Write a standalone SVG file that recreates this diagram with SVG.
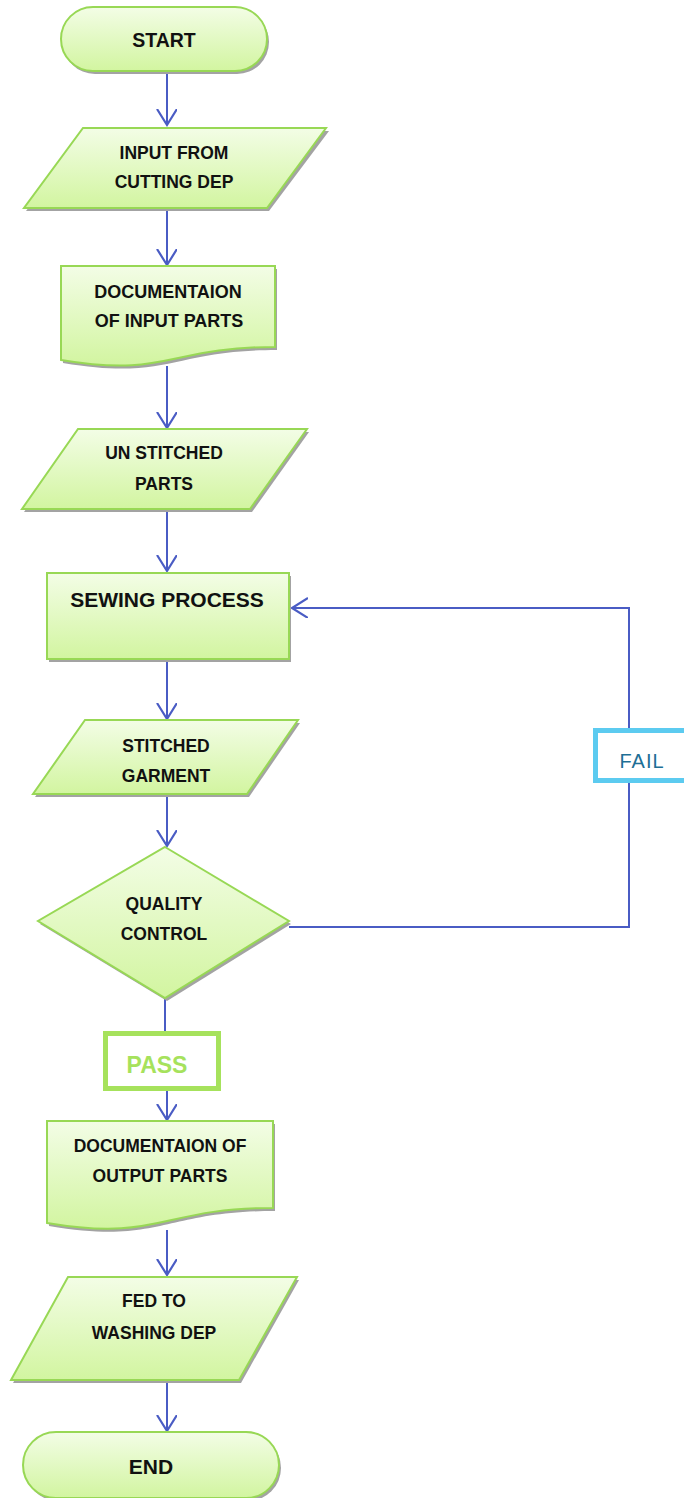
<svg xmlns="http://www.w3.org/2000/svg" width="684" height="1498" viewBox="0 0 684 1498">
<defs>
<linearGradient id="g" x1="0" y1="0" x2="0" y2="1">
<stop offset="0" stop-color="#F3FDE6"/>
<stop offset="1" stop-color="#D2F5A0"/>
</linearGradient>
<marker id="arr" markerWidth="24" markerHeight="24" refX="16" refY="10" orient="auto" markerUnits="userSpaceOnUse">
<path d="M0,0 L16,10 L0,20" fill="none" stroke="#4A5CC4" stroke-width="2.2"/>
</marker>
<style>
.shape{fill:url(#g);stroke:#98D855;stroke-width:2}
.shadow{fill:#A3A3A3;stroke:none}
.t{font-family:"Liberation Sans",Arial,sans-serif;font-weight:bold;fill:#111;text-anchor:middle}
.c{fill:none;stroke:#4A5CC4;stroke-width:2}
</style>
</defs>

<g id="connectors">
<line class="c" x1="167" y1="72" x2="167" y2="125" marker-end="url(#arr)"/>
<line class="c" x1="167" y1="209" x2="167" y2="265" marker-end="url(#arr)"/>
<line class="c" x1="167" y1="366" x2="167" y2="428" marker-end="url(#arr)"/>
<line class="c" x1="167" y1="510" x2="167" y2="571" marker-end="url(#arr)"/>
<line class="c" x1="167" y1="660" x2="167" y2="719" marker-end="url(#arr)"/>
<line class="c" x1="167" y1="797" x2="167" y2="846" marker-end="url(#arr)"/>
<line class="c" x1="165" y1="998" x2="165" y2="1032"/>
<line class="c" x1="167" y1="1091" x2="167" y2="1120" marker-end="url(#arr)"/>
<line class="c" x1="167" y1="1230" x2="167" y2="1275" marker-end="url(#arr)"/>
<line class="c" x1="167" y1="1380" x2="167" y2="1431" marker-end="url(#arr)"/>
<polyline class="c" points="289,927 629,927 629,780"/>
<polyline class="c" points="629,735 629,608 292,608" marker-end="url(#arr)"/>
</g>

<g id="start">
<rect class="shadow" x="63" y="10" width="206" height="64" rx="32"/>
<rect class="shape" x="61" y="7" width="206" height="64" rx="32"/>
<text class="t" x="164" y="47" font-size="19.5">START</text>
</g>

<g id="input">
<polygon class="shadow" points="85,131 329,131 269,211 26,211"/>
<polygon class="shape" points="83,128 326,128 267,208 24,208"/>
<text class="t" x="174" y="159" font-size="17.5">INPUT FROM</text>
<text class="t" x="174" y="188" font-size="17.5">CUTTING DEP</text>
</g>

<g id="doc1">
<path class="shadow" d="M63,269 H277 V350 C170,350 170,381 63,363 Z"/>
<path class="shape" d="M61,266 H275 V347 C168,347 168,378 61,360 Z"/>
<text class="t" x="168" y="298" font-size="18">DOCUMENTAION</text>
<text class="t" x="169" y="327" font-size="18">OF INPUT PARTS</text>
</g>

<g id="unstitched">
<polygon class="shadow" points="80,432 309,432 252,512 24,512"/>
<polygon class="shape" points="78,429 307,429 250,509 22,509"/>
<text class="t" x="164" y="459" font-size="17.5">UN STITCHED</text>
<text class="t" x="164" y="490" font-size="17.5">PARTS</text>
</g>

<g id="sewing">
<rect class="shadow" x="49" y="576" width="242" height="86"/>
<rect class="shape" x="47" y="573" width="242" height="86"/>
<text class="t" x="167" y="607" font-size="21">SEWING PROCESS</text>
</g>

<g id="stitched">
<polygon class="shadow" points="87,723 300,723 249,797 35,797"/>
<polygon class="shape" points="85,720 298,720 247,794 33,794"/>
<text class="t" x="166" y="752" font-size="17.5">STITCHED</text>
<text class="t" x="166" y="782" font-size="17.5">GARMENT</text>
</g>

<g id="quality">
<polygon class="shadow" points="167,850 291,924 167,1001 40,924"/>
<polygon class="shape" points="165,847 289,921 165,998 38,921"/>
<text class="t" x="164" y="910" font-size="17.5">QUALITY</text>
<text class="t" x="164" y="940" font-size="17.5">CONTROL</text>
</g>

<g id="fail">
<rect x="595.5" y="730.5" width="100" height="50" fill="#fff" stroke="#5CCBF0" stroke-width="5"/>
<text x="642" y="768" font-family="Liberation Sans,Arial,sans-serif" font-size="20" letter-spacing="1" fill="#1E6F96" text-anchor="middle">FAIL</text>
</g>

<g id="pass">
<rect x="105.5" y="1033.5" width="113" height="55" fill="#fff" stroke="#A6E25C" stroke-width="5"/>
<text class="t" x="157" y="1073" font-size="23" style="fill:#A6E25C">PASS</text>
</g>

<g id="doc2">
<path class="shadow" d="M49,1124 H275 V1211 C162,1211 162,1245 49,1226 Z"/>
<path class="shape" d="M47,1121 H273 V1208 C160,1208 160,1242 47,1223 Z"/>
<text class="t" x="160" y="1152" font-size="17.5">DOCUMENTAION OF</text>
<text class="t" x="160" y="1182" font-size="17.5">OUTPUT PARTS</text>
</g>

<g id="fed">
<polygon class="shadow" points="70,1280 299,1280 241,1383 13,1383"/>
<polygon class="shape" points="68,1277 297,1277 239,1380 11,1380"/>
<text class="t" x="154" y="1307" font-size="17.5">FED TO</text>
<text class="t" x="154" y="1339" font-size="17.5">WASHING DEP</text>
</g>

<g id="end">
<rect class="shadow" x="25" y="1435" width="256" height="66" rx="33"/>
<rect class="shape" x="23" y="1432" width="256" height="66" rx="33"/>
<text class="t" x="151" y="1474" font-size="21">END</text>
</g>
</svg>
